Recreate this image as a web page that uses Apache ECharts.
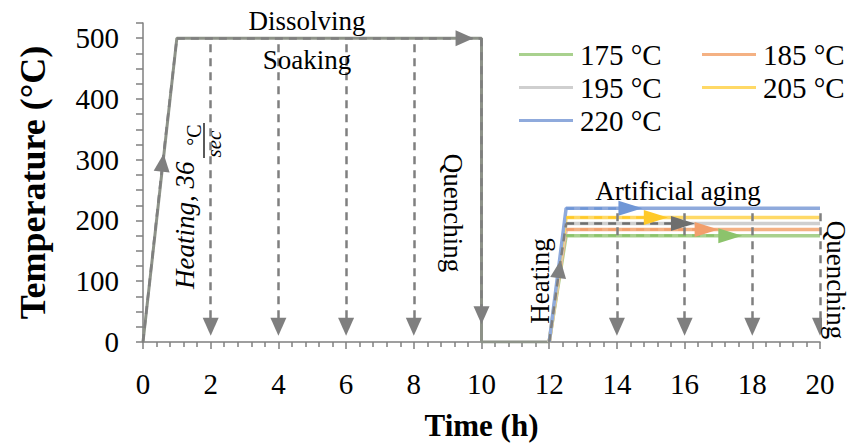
<!DOCTYPE html>
<html>
<head>
<meta charset="utf-8">
<script src="https://cdn.jsdelivr.net/npm/echarts@6/dist/echarts.min.js"></script>
<style>
  html, body { margin: 0; padding: 0; background: #fff; }
  #chart { width: 856px; height: 446px; }
</style>
</head>
<body>
<div id="chart"></div>
<script>
// 共通の熱処理経路 (溶体化 → 焼入れ)
const commonPath = [[0, 0], [1, 500], [10, 500], [10, 0], [12, 0]]
// 時効温度
const agingNames = ['175 °C', '185 °C', '195 °C', '205 °C', '220 °C']
const agingTemps = [175, 185, 195, 205, 220]
const agingStart = 12
const rampEnd = 12.5
const agingEnd = 20
// 破線矢印の先端 (時効温度ごと)
const agingArrowTips = [17.35, 16.65, 15.95, 15.15, 14.4]
const lineColors = ['#a9d18e', '#f4b183', '#cfcfcf', '#ffd966', '#8faadc']
const dashColors = ['#8cc36c', '#f29f6c', '#6e6e6e', '#ffc929', '#6f96d6']
// 矢印付きの破線区間
const arrowSegs = [
  [[0, 0], [0.58, 295]],
  [[1, 500], [9.5, 500]],
  [[10, 500], [10, 44]],
  [[12, 0], [12.3, 120]]
]
// 矢印なしの破線区間
const plainSegs = [
  [[0.58, 295], [1, 500]],
  [[9.5, 500], [10, 500]],
  [[12.3, 120], [12.5, 195]]
]
// 下向き破線矢印
const soakDrops = [2, 4, 6, 8]
const soakDropTop = 490
const ageDrops = [14, 16, 18, 20]
const ageDropTop = 212
const dropBottom = 25
const yLabelValues = [0, 100, 200, 300, 400, 500]

const FONT = 'Liberation Serif'
const GREY = '#7f7f7f'

const chart = echarts.init(document.getElementById('chart'), null, { renderer: 'svg' })

function agingLine(i) {
  return [[agingStart, 0], [rampEnd, agingTemps[i]], [agingEnd, agingTemps[i]]]
}

const series = []
// 共通経路
series.push({
  type: 'line',
  name: 'common',
  data: commonPath,
  showSymbol: false,
  lineStyle: { color: '#8d9288', width: 3 },
  z: 2
})
// 時効温度ごとの線
agingNames.forEach((nm, i) => {
  series.push({
    type: 'line',
    name: nm,
    data: agingLine(i),
    showSymbol: false,
    color: lineColors[i],
    lineStyle: { color: lineColors[i], width: 3.5 },
    z: 3
  })
})
// 時効の破線矢印 (終点側のみ細長い三角形)
agingNames.forEach((nm, i) => {
  series.push({
    type: 'lines',
    coordinateSystem: 'cartesian2d',
    symbol: ['none', 'triangle'],
    symbolSize: [1, [15, 24]],
    lineStyle: { color: dashColors[i], width: 2.5, type: [8, 6], opacity: 1 },
    data: [{ coords: [[rampEnd, agingTemps[i]], [agingArrowTips[i], agingTemps[i]]] }],
    z: 4
  })
})
// 溶体化・焼入れの破線矢印
const dropSegs = []
soakDrops.forEach((x) => dropSegs.push([[x, soakDropTop], [x, dropBottom]]))
ageDrops.forEach((x) => dropSegs.push([[x, ageDropTop], [x, dropBottom]]))
series.push({
  type: 'lines',
  coordinateSystem: 'cartesian2d',
  symbol: ['none', 'triangle'],
  symbolSize: [1, [16, 18]],
  lineStyle: { color: GREY, width: 2.5, type: [8, 6], opacity: 1 },
  data: arrowSegs.concat(dropSegs).map((c) => ({ coords: c })),
  z: 5
})
series.push({
  type: 'lines',
  coordinateSystem: 'cartesian2d',
  symbol: ['none', 'none'],
  lineStyle: { color: GREY, width: 2.5, type: [8, 6], opacity: 1 },
  data: plainSegs.map((c) => ({ coords: c })),
  z: 5
})

function txt(x, y, text, rot) {
  return {
    type: 'text',
    x: x,
    y: y,
    rotation: rot || 0,
    style: {
      text: text,
      fontFamily: FONT,
      fontSize: 27,
      fill: '#000',
      align: 'center',
      verticalAlign: 'middle',
      textAlign: 'center',
      textVerticalAlign: 'middle'
    },
    z: 10
  }
}

const legendBase = {
  top: 40, orient: 'vertical', itemWidth: 54, itemHeight: 3, itemGap: 4,
  icon: 'rect', padding: 0, selectedMode: false,
  textStyle: { fontFamily: FONT, fontSize: 29, color: '#000', padding: [0, 0, 0, 2] }
}

const option = {
  backgroundColor: '#fff',
  animation: false,
  grid: { left: 143, right: 36, top: 23, bottom: 101 },
  legend: [
    Object.assign({ left: 519, data: ['175 °C', '195 °C', '220 °C'] }, legendBase),
    Object.assign({ left: 702, data: ['185 °C', '205 °C'] }, legendBase)
  ],
  xAxis: {
    type: 'value',
    min: 0,
    max: 20,
    interval: 2,
    name: 'Time (h)',
    nameLocation: 'middle',
    nameGap: 68,
    nameTextStyle: { fontFamily: FONT, fontSize: 31, fontWeight: 'bold', color: '#000' },
    axisLine: { lineStyle: { color: GREY, width: 1.5 } },
    axisTick: { length: 7, lineStyle: { color: GREY, width: 1.5 } },
    minorTick: { show: true, splitNumber: 5, length: 5, lineStyle: { color: GREY, width: 1.5 } },
    axisLabel: { fontFamily: FONT, fontSize: 29, color: '#000', margin: 27 },
    splitLine: { show: false }
  },
  yAxis: {
    type: 'value',
    min: 0,
    max: 525,
    interval: 25,
    name: 'Temperature (°C)',
    nameLocation: 'middle',
    nameGap: 92,
    nameTextStyle: { fontFamily: FONT, fontSize: 36, fontWeight: 'bold', color: '#000' },
    axisLine: { show: true, lineStyle: { color: GREY, width: 1.5 } },
    axisTick: { show: true, length: 7, interval: 0, lineStyle: { color: GREY, width: 1.5 } },
    axisLabel: {
      fontFamily: FONT, fontSize: 29, color: '#000', margin: 24,
      formatter: (v) => (yLabelValues.indexOf(v) >= 0 ? String(v) : '')
    },
    splitLine: { show: false }
  },
  graphic: [
    txt(307, 21, 'Dissolving'),
    txt(307, 60, 'Soaking'),
    {
      type: 'group',
      x: 185,
      y: 289,
      rotation: Math.PI / 2,
      z: 10,
      children: [
        { type: 'text', x: 0, y: 0, style: { text: 'Heating, 36', fontFamily: FONT, fontSize: 27, fontStyle: 'italic', fill: '#000', align: 'left', verticalAlign: 'middle', textAlign: 'left', textVerticalAlign: 'middle' } },
        { type: 'text', x: 154, y: 9, style: { text: '°C', fontFamily: FONT, fontSize: 20, fill: '#000', align: 'center', verticalAlign: 'middle', textAlign: 'center', textVerticalAlign: 'middle' } },
        { type: 'line', shape: { x1: 131, y1: 19, x2: 166, y2: 19 }, style: { stroke: '#000', lineWidth: 1.3 } },
        { type: 'text', x: 145, y: 29, style: { text: 'sec', fontFamily: FONT, fontSize: 21, fontStyle: 'italic', fill: '#000', align: 'center', verticalAlign: 'middle', textAlign: 'center', textVerticalAlign: 'middle' } }
      ]
    },
    txt(453, 213, 'Quenching', -Math.PI / 2),
    txt(540, 281, 'Heating', Math.PI / 2),
    txt(678, 191, 'Artificial aging'),
    txt(836, 280, 'Quenching', -Math.PI / 2)
  ],
  series: series
}

chart.setOption(option)
</script>
</body>
</html>
